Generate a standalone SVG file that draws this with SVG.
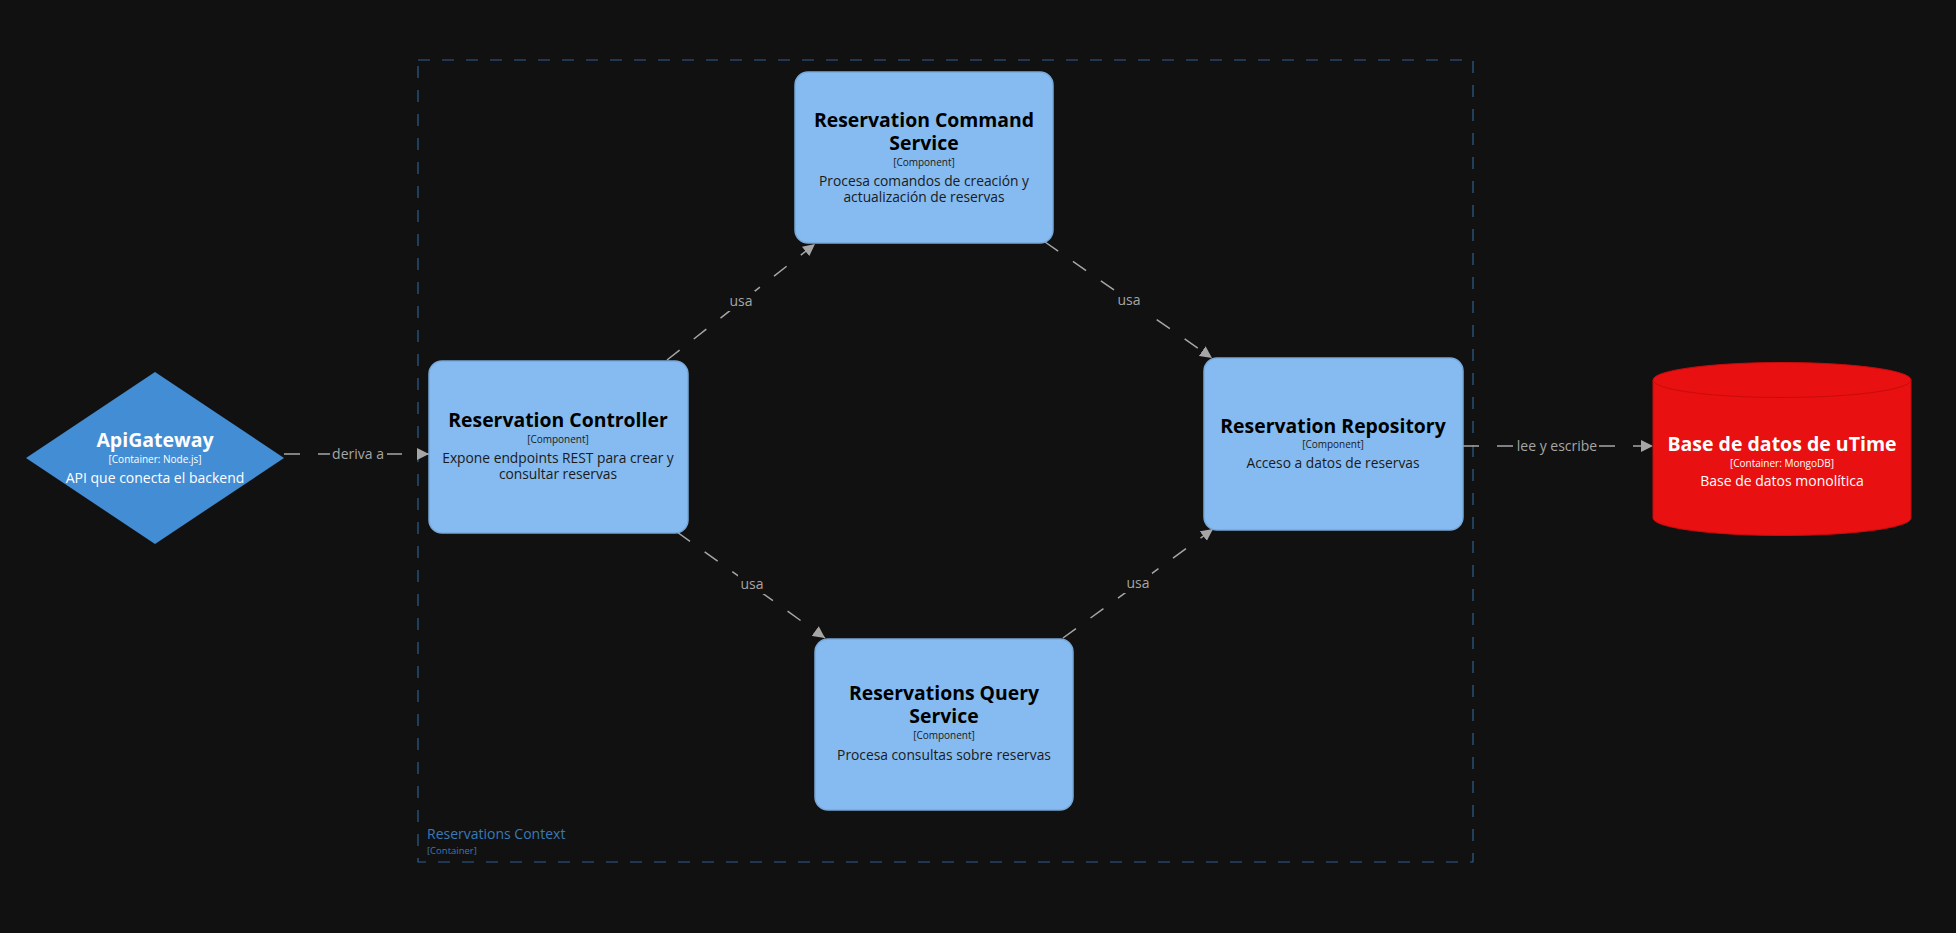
<svg xmlns="http://www.w3.org/2000/svg" width="1956" height="933" viewBox="0 0 1956 933">
<style>
text{font-family:"Open Sans","Noto Sans","Liberation Sans",sans-serif;text-anchor:middle}
.comp{fill:#85bbf0;stroke:#78a8d8;stroke-width:1.5}
.t{font-weight:bold;font-size:19.4px;fill:#000}
.k{font-size:10px;fill:#1a1a1a}
.d{font-size:13.8px;fill:#1a1a1a}
.tw{font-weight:bold;font-size:19.5px;fill:#fff}
.kw{font-size:10px;fill:#fff}
.dw{font-size:14px;fill:#fff}
.edge{fill:none;stroke:#a6a6a6;stroke-width:1.5;stroke-dasharray:16 18}
.lbl{font-size:14px;fill:#a6a6a6}
.lbg{fill:#111111}
</style>
<defs>
<marker id="arr" viewBox="0 0 12 12" refX="12" refY="6" markerWidth="12" markerHeight="12" markerUnits="userSpaceOnUse" orient="auto">
<path d="M0,0 L12,6 L0,12 Z" fill="#a6a6a6"/>
</marker>
</defs>
<rect width="1956" height="933" fill="#111111"/>
<g id="boundary">
<rect x="418" y="60" width="1055" height="802" fill="none" stroke="#2f5f8f" stroke-width="1.2" stroke-dasharray="12 12"/>
<text x="427" y="839" style="text-anchor:start;font-size:14px;fill:#3a79b5">Reservations Context</text>
<text x="427" y="854" style="text-anchor:start;font-size:9.5px;fill:#3a79b5">[Container]</text>
</g>
<g id="connectors">
<line class="edge" x1="284" y1="454" x2="429" y2="454" marker-end="url(#arr)"/>
<rect class="lbg" x="330" y="443" width="57" height="20"/>
<text class="lbl" x="358" y="459">deriva a</text>
<line class="edge" x1="667" y1="360" x2="815" y2="244" marker-end="url(#arr)"/>
<rect class="lbg" x="727" y="291" width="28" height="20"/>
<text class="lbl" x="741" y="306">usa</text>
<line class="edge" x1="1045" y1="242" x2="1212" y2="358" marker-end="url(#arr)"/>
<rect class="lbg" x="1115" y="290" width="28" height="20"/>
<text class="lbl" x="1129" y="305">usa</text>
<line class="edge" x1="677" y1="532" x2="825" y2="638" marker-end="url(#arr)"/>
<rect class="lbg" x="738" y="574" width="28" height="20"/>
<text class="lbl" x="752" y="589">usa</text>
<line class="edge" x1="1063" y1="638" x2="1213" y2="529" marker-end="url(#arr)"/>
<rect class="lbg" x="1124" y="573" width="28" height="20"/>
<text class="lbl" x="1138" y="588">usa</text>
<line class="edge" x1="1463" y1="446" x2="1653" y2="446" marker-end="url(#arr)"/>
<rect class="lbg" x="1515" y="436" width="84" height="20"/>
<text class="lbl" x="1557" y="451">lee y escribe</text>
</g>
<g id="apigateway">
<polygon points="155,372 284,458 155,544 26,458" fill="#438dd5"/>
<text class="tw" x="155" y="447">ApiGateway</text>
<text class="kw" x="155" y="463">[Container: Node.js]</text>
<text class="dw" x="155" y="483">API que conecta el backend</text>
</g>
<g id="controller">
<rect class="comp" x="429" y="361" width="259" height="172" rx="13"/>
<text class="t" x="558" y="427">Reservation Controller</text>
<text class="k" x="558" y="443">[Component]</text>
<text class="d" x="558" y="463">Expone endpoints REST para crear y</text>
<text class="d" x="558" y="479">consultar reservas</text>
</g>
<g id="command">
<rect class="comp" x="795" y="72" width="258" height="171" rx="13"/>
<text class="t" x="924" y="127">Reservation Command</text>
<text class="t" x="924" y="150">Service</text>
<text class="k" x="924" y="166">[Component]</text>
<text class="d" x="924" y="186">Procesa comandos de creación y</text>
<text class="d" x="924" y="202">actualización de reservas</text>
</g>
<g id="repository">
<rect class="comp" x="1204" y="358" width="259" height="172" rx="13"/>
<text class="t" x="1333" y="433">Reservation Repository</text>
<text class="k" x="1333" y="448">[Component]</text>
<text class="d" x="1333" y="468">Acceso a datos de reservas</text>
</g>
<g id="query">
<rect class="comp" x="815" y="639" width="258" height="171" rx="13"/>
<text class="t" x="944" y="700">Reservations Query</text>
<text class="t" x="944" y="723">Service</text>
<text class="k" x="944" y="739">[Component]</text>
<text class="d" x="944" y="760">Procesa consultas sobre reservas</text>
</g>
<g id="database">
<path d="M1653,380 A129,17.5 0 0 1 1911,380 L1911,518 A129,17.5 0 0 1 1653,518 Z" fill="#e81010" stroke="#c80c0c" stroke-width="1"/>
<path d="M1653,380 A129,17.5 0 0 0 1911,380" fill="none" stroke="#c80c0c" stroke-width="1"/>
<text class="tw" x="1782" y="451">Base de datos de uTime</text>
<text class="kw" x="1782" y="467">[Container: MongoDB]</text>
<text class="dw" x="1782" y="486">Base de datos monolítica</text>
</g>
</svg>
